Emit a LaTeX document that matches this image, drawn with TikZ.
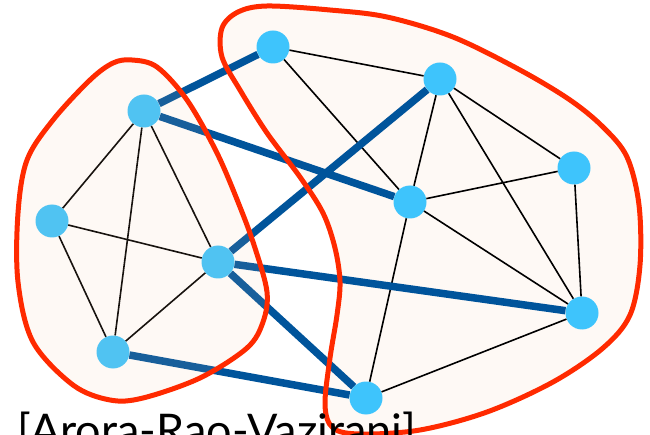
\documentclass[tikz,border=0pt]{standalone}
\usepackage{fontspec}
\setmainfont{Lato}
\definecolor{vertexblue}{RGB}{62,196,252}
\definecolor{cutblue}{RGB}{0,84,155}
\definecolor{blobred}{RGB}{255,42,0}
\definecolor{blobfill}{RGB}{254,249,245}
\definecolor{blobtint}{RGB}{245,195,155}
\tikzset{
  vertex/.style={circle, fill=vertexblue, draw=none, minimum size=33pt, inner sep=0pt},
  inner edge/.style={draw=black, line width=1.6pt},
  cut edge/.style={draw=cutblue, line width=7.5pt},
  blob line/.style={draw=blobred, line width=5pt},
}
\begin{document}
\begin{tikzpicture}[x=1pt, y=-1pt]
\useasboundingbox (0,0) rectangle (650,435);

% right cluster region (solid fill underneath)
\def\rightblob{plot[smooth cycle, tension=0.55] coordinates {
  (267,6) (330,10) (387,17) (453,37) (520,70) (570,100) (603,127) (627,157)
  (639,205) (640,265) (630,315) (603,348) (553,382) (487,412) (420,430)
  (360,434) (333,428) (325,405) (330,358) (337,315) (340,282) (335,248)
  (323,213) (300,177) (267,133) (240,90) (222,57) (222,28) (238,12)}}
\def\leftblob{plot[smooth cycle, tension=0.55] coordinates {
  (132,60) (157,67) (187,100) (217,153) (240,207) (255,248) (267,292)
  (263,322) (247,348) (200,378) (143,398) (110,400) (73,385) (33,342)
  (18,282) (18,213) (27,160) (53,120) (90,80) (113,63)}}

\fill[blobfill] \rightblob;

% vertices
\node[vertex] (a) at (273,47) {};
\node[vertex] (b) at (144,111) {};
\node[vertex] (c) at (440,79) {};
\node[vertex] (d) at (574,168) {};
\node[vertex] (e) at (52,221) {};
\node[vertex] (f) at (410,202) {};
\node[vertex] (g) at (218,262) {};
\node[vertex] (h) at (582,313) {};
\node[vertex] (i) at (113,352) {};
\node[vertex] (j) at (366,398) {};

% edges inside the clusters
\path[inner edge] (b) -- (e) (b) -- (i) (b) -- (g) (e) -- (g) (e) -- (i) (g) -- (i);
\path[inner edge] (a) -- (c) (a) -- (f) (c) -- (f) (c) -- (d) (c) -- (h)
  (f) -- (d) (f) -- (h) (f) -- (j) (d) -- (h) (j) -- (h);

% edges across the cut
\path[cut edge] (b) -- (a) (b) -- (f) (g) -- (c) (g) -- (h) (g) -- (j) (i) -- (j);

% left cluster region: translucent tint over its contents
\fill[blobtint, fill opacity=0.1] \leftblob;

% outlines
\path[blob line] \rightblob;
\path[blob line] \leftblob;

\node[anchor=base west, inner sep=0pt, font=\fontsize{45}{50}\selectfont] (cite) at (17,446) {[Arora-Rao-Vazirani]};
\end{tikzpicture}
\end{document}
